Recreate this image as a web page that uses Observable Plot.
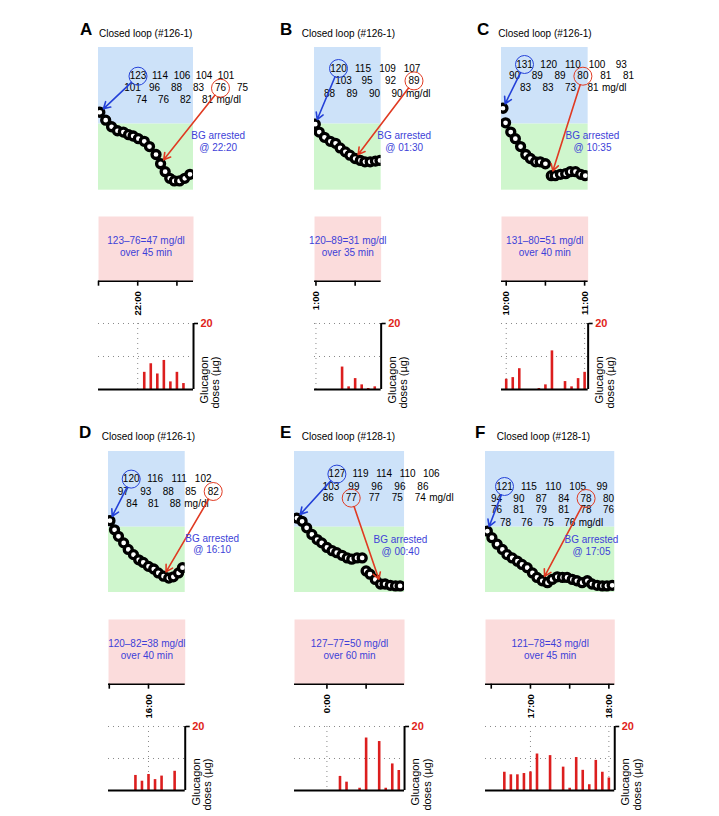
<!DOCTYPE html>
<html><head><meta charset="utf-8">
<script src="https://cdn.jsdelivr.net/npm/d3@7"></script>
<script src="https://cdn.jsdelivr.net/npm/@observablehq/plot@0.6"></script>
<style>
body{margin:0;background:#fff;font-family:"Liberation Sans",Arial,Helvetica,sans-serif;}
#fig{position:relative;width:719px;height:816px;overflow:hidden;background:#fff;}
#fig svg{position:absolute;}
.letter{position:absolute;font-weight:bold;font-size:17px;line-height:16px;white-space:nowrap;}
.ttl{position:absolute;font-size:10px;line-height:10px;white-space:nowrap;}
</style></head><body><div id="fig"></div>
<script>
// ---------------- DATA ----------------
const panelIds = ["A","B","C","D","E","F"];
const titles = ["Closed loop (#126-1)","Closed loop (#126-1)","Closed loop (#126-1)","Closed loop (#126-1)","Closed loop (#128-1)","Closed loop (#128-1)"];
// reference hour of each panel; all times below are minutes relative to it
const refHours = [22, 1, 10, 16, 0, 17];
const domains = [[-30, 42.7], [-1.1, 49.9], [-3.6, 62.7], [-30.6, 28.1], [-24.8, 59.4], [-34.4, 64.5]];
const axisTicks = [[-30,0,30],[0,30],[0,30,60],[-30,0],[0,30],[-30,0,30,60]];
const hourTicks = [[0],[0],[0,60],[0],[0],[0,60]];

// glucose trace (circles): minutes from reference hour, mg/dl
const timesA = [-29,-24.5,-20,-15.5,-11,-7,-3.5,0.5,5,9,14,17.5,21,24.5,28,32,36,40];
const glucoseA = [129,123,118,115,114,112,111,109,107,103,97,90,84,79,77,77,79,82];
const timesB = [-0.5,2.5,6.5,11,15,18.5,22.5,26,30,34,37.5,41.5,45.5,49];
const glucoseB = [120,114,110,107,105.5,102,99,96.5,94,92.5,91.5,91.5,92,92.5];
const timesC = [-2.5,-0.5,3.5,7,11,15,18.5,22.5,26,30,34.5,37.5,41.5,45.5,49,53,57,60.5];
const glucoseC = [132,121,114,109,103,97,94,91.5,91.5,90,81,81,82,82.5,84,84,82,81];
const timesD = [-29.5,-26,-23,-19,-15.5,-11.5,-7.5,-4,0,4,7.5,11.5,15.5,19,23,26];
const glucoseD = [125,118,113,108,103,99,95,93,90,88,85,82.5,81,82,85,89];
const timesE = [-23,-19,-15.5,-11.5,-7.5,-4,0,4,7.5,11.5,15.5,19,23,27,30,33,37,41,44.5,48.5,52.5,56];
const glucoseE = [127,124.5,119.5,114.5,110.5,108,104.5,102,100.5,98.5,96.5,95.5,96.5,96.5,86.5,84,80,76.5,76.5,75.5,75,75];
const timesF = [-33,-29.5,-25.5,-21.5,-18,-14,-10,-6.5,-2.5,1.5,5,9,13,16.5,20.5,24.5,28,32,35.5,39.5,43.5,47,51,55,58.5,62.5];
const glucoseF = [117,112,107,103,99,96.5,94,91.5,89,85,81.5,79,77.5,80,82,81.5,81.5,80,79,77.5,79,76.5,75.5,75,75,75.5];

// CGM value tables printed in the blue area
const tableA = [[123,114,106,104,101],[101,96,88,83,76,75],[74,76,82,81]];
const tableB = [[120,115,109,107],[103,95,92,89],[88,89,90,90]];
const tableC = [[131,120,110,100,93],[90,89,89,80,81,81],[83,83,73,81]];
const tableD = [[120,116,111,102],[97,93,88,85,82],[84,81,88]];
const tableE = [[127,119,114,110,106],[103,99,96,96,86],[86,77,77,75,74]];
const tableF = [[121,115,110,105,99],[94,90,87,84,78,80],[76,81,79,81,78,76],[78,76,75,76]];
const endCells = [[1,4],[1,3],[1,3],[1,4],[2,1],[1,4]];
const arrowTargets = [[0,11],[0,8],[0,10],[0,11],[0,17],[0,11]];
const arrestTimes = ["22:20","01:30","10:35","16:10","00:40","17:05"];
const durations = [45,35,40,40,60,45];

// glucagon doses (µg): minutes from reference hour
const doseTimesA = [5,10,15,20,25,30,35];
const dosesA = [5.2,7.8,4.7,8.8,2.3,5.2,1.8];
const doseTimesB = [20,25,30,35,40,45];
const dosesB = [6.8,0.8,3.3,1.4,0.3,0.8];
const doseTimesC = [0,5,10,25,30,35,45,50,55,60];
const dosesC = [3.1,3.6,6.3,0.3,1.4,11.7,2.4,0.8,3.3,5.2];
const doseTimesD = [-10,-5,0,5,10,20];
const dosesD = [4.7,2.9,5.0,3.4,4.5,6.0];
const doseTimesE = [10,15,25,30,40,45,50,55];
const dosesE = [4.4,2.6,0.7,16.4,15.3,0.7,8.3,6.25];
const doseTimesF = [-20,-15,-10,-5,0,5,15,25,30,35,40,45,50,55,60];
const dosesF = [5.7,4.9,4.9,5.3,5.8,11.4,10.9,7.3,0.7,10.3,6.3,1.8,9.4,5.7,3.9];

const targetRange = [70, 120];
const glucoseDomain = [70, 178];
const doseDomain = [0, 20];
const doseGrid = [10, 20];

// ---------------- LAYOUT / STYLE ----------------
const FONT = '"Liberation Sans", Arial, Helvetica, sans-serif';
const K = 1.307; // px per minute
const C = {blueBg:"#cde2f9", greenBg:"#cff6cd", pink:"#fbdcdc", txtBlue:"#3d3fd8", arrowBlue:"#2340d8", arrowRed:"#e03a22", bar:"#dc1e1e", red20:"#e0241a"};
const rows = [
  {topY:47.3, topH:142.7, pinkY:216, pinkH:64.7, barY:323.3, barH:66, titleBase:37.2, letterBase:35.7},
  {topY:450.7, topH:141, pinkY:619, pinkH:64.7, barY:726, barH:64, titleBase:440.3, letterBase:439.3}
];
const layout = {
  A:{L:98.3, row:0, rowY:[28.7,40.7,52.7], rowX:[39.5,34,43], pitch:[22,22,22], bg:[119.7,87.7], titleX:99, letterX:80},
  B:{L:314.3, row:0, rowY:[21,33.4,46], rowX:[24,29,15], pitch:[24.5,23.5,22.5], bg:[89.7,87.7], titleX:301.7, letterX:280},
  C:{L:501, row:0, rowY:[17,28.7,40.4], rowX:[23,13,24], pitch:[24.2,22.8,22.5], bg:[91,87.7], titleX:498.3, letterX:477},
  D:{L:108.3, row:1, rowY:[27.6,40,52], rowX:[22.7,14.7,23.4], pitch:[24,22.5,21.7], bg:[103.7,86.5], titleX:101.7, letterX:79},
  E:{L:294.3, row:1, rowY:[22.6,35,46.6], rowX:[42.4,36.4,33.7], pitch:[23.6,23,23], bg:[106,87.6], titleX:301.7, letterX:280},
  F:{L:485, row:1, rowY:[35,47,58.6,71], rowX:[19,11,11,20], pitch:[24.4,22.4,22.4,21.4], bg:[106,87.6], titleX:496.7, letterX:475}
};
const readings = [[timesA,glucoseA],[timesB,glucoseB],[timesC,glucoseC],[timesD,glucoseD],[timesE,glucoseE],[timesF,glucoseF]];
const tables = [tableA,tableB,tableC,tableD,tableE,tableF];
const doses = [[doseTimesA,dosesA],[doseTimesB,dosesB],[doseTimesC,dosesC],[doseTimesD,dosesD],[doseTimesE,dosesE],[doseTimesF,dosesF]];

const fig = document.getElementById("fig");
function place(svg, left, top){ svg.style.left = left+"px"; svg.style.top = top+"px"; fig.appendChild(svg); }
function clock(ref, m){ const t = ((ref*60+m)%1440+1440)%1440; return Math.floor(t/60)+":"+String(Math.round(t%60)).padStart(2,"0"); }
const ST = {background:"transparent", overflow:"visible", maxWidth:"none", fontFamily:FONT, fontSize:"10px", color:"black"};

panelIds.forEach((id, i) => {
  const P = layout[id], R = rows[P.row];
  const [t0, t1] = domains[i];
  const W = (t1 - t0) * K;
  const mL = 25, mR = 70;
  const fx = px => t0 + px / K;
  const fy = py => glucoseDomain[1] - py / R.topH * (glucoseDomain[1] - glucoseDomain[0]);
  const [ts, vs] = readings[i];
  const sg = ts.map((t, j) => ({t, v: vs[j]}));
  const tab = tables[i];
  const labels = [];
  tab.forEach((row, r) => row.forEach((v, c) => labels.push({x: fx(P.rowX[r] + c*P.pitch[r]), y: fy(P.rowY[r]), text: String(v), r, c})));
  const lr = tab.length - 1, lc = tab[lr].length - 1;
  const unit = [{x: fx(P.rowX[lr] + lc*P.pitch[lr] + 9), y: fy(P.rowY[lr]), text: "mg/dl"}];
  const sLab = labels.find(d => d.r === 0 && d.c === 0);
  const eLab = labels.find(d => d.r === endCells[i][0] && d.c === endCells[i][1]);
  const bTo = sg[arrowTargets[i][0]], rTo = sg[arrowTargets[i][1]];

  // letter + title
  const lt = document.createElement("div"); lt.className = "letter"; lt.textContent = id;
  lt.style.left = P.letterX + "px"; lt.style.top = (R.letterBase - 14) + "px"; fig.appendChild(lt);
  const tt = document.createElement("div"); tt.className = "ttl"; tt.textContent = titles[i];
  tt.style.left = P.titleX + "px"; tt.style.top = (R.titleBase - 8.5) + "px"; fig.appendChild(tt);

  // glucose panel
  const top = Plot.plot({
    width: mL + W + mR, height: R.topH, marginLeft: mL, marginRight: mR, marginTop: 0, marginBottom: 0,
    x: {domain: [t0, t1], axis: null}, y: {domain: glucoseDomain, axis: null},
    style: ST,
    marks: [
      Plot.rect([[targetRange[1], glucoseDomain[1]]], {y1: d => d[0], y2: d => d[1], fill: C.blueBg}),
      Plot.rect([targetRange], {y1: d => d[0], y2: d => d[1], fill: C.greenBg}),
      Plot.dot(sg, {x: "t", y: "v", r: 4, stroke: "black", strokeWidth: 3.3, fill: "white", clip: true}),
      Plot.text(labels, {x: "x", y: "y", text: "text", fill: "black", fontSize: 10}),
      Plot.text(unit, {x: "x", y: "y", text: "text", fill: "black", fontSize: 10, textAnchor: "start"}),
      Plot.dot([sLab], {x: "x", y: "y", r: 9, stroke: C.arrowBlue, strokeWidth: 1, fill: "none"}),
      Plot.dot([eLab], {x: "x", y: "y", r: 9, stroke: C.arrowRed, strokeWidth: 1, fill: "none"}),
      Plot.arrow([{a: sLab, b: bTo}], {x1: d => d.a.x, y1: d => d.a.y, x2: d => d.b.t, y2: d => d.b.v, stroke: C.arrowBlue, strokeWidth: 1.6, headLength: 7, insetStart: 9, insetEnd: 5}),
      Plot.arrow([{a: eLab, b: rTo}], {x1: d => d.a.x, y1: d => d.a.y, x2: d => d.b.t, y2: d => d.b.v, stroke: C.arrowRed, strokeWidth: 1.6, headLength: 7, insetStart: 9, insetEnd: 5}),
      Plot.text([`BG arrested\n@ ${arrestTimes[i]}`], {x: () => fx(P.bg[0]), y: () => fy(P.bg[1] + 5.85), fill: C.txtBlue, fontSize: 10, lineHeight: 1.17})
    ]
  });
  place(top, P.L - mL, R.topY);

  // pink summary box with time axis
  const s = tab[0][0], e = tab[endCells[i][0]][endCells[i][1]];
  const pink = Plot.plot({
    width: mL + W + mR, height: R.pinkH + 42, marginLeft: mL, marginRight: mR, marginTop: 0, marginBottom: 42,
    x: {domain: [t0, t1]}, y: {domain: [0, 1], axis: null},
    style: ST,
    marks: [
      Plot.frame({fill: C.pink, stroke: "none"}),
      Plot.text([`${s}–${e}=${s-e} mg/dl\nover ${durations[i]} min`], {frameAnchor: "middle", dy: -2.5, fill: C.txtBlue, fontSize: 10, lineHeight: 1.17}),
      Plot.ruleY([0], {stroke: "black", strokeWidth: 1.6}),
      Plot.axisX({ticks: axisTicks[i], tickSize: 5, tickPadding: 5, tickRotate: -90, strokeWidth: 1.6,
        tickFormat: d => hourTicks[i].includes(d) ? clock(refHours[i], d) : "", fontWeight: "bold", fontSize: 9.5, label: null})
    ]
  });
  place(pink, P.L - mL, R.pinkY);

  // glucagon bars
  const [dt, dv] = doses[i];
  const bars = dt.map((t, j) => ({t, v: dv[j]}));
  const mT = 8, mB = 2;
  const bar = Plot.plot({
    width: mL + W + mR, height: R.barH + mT + mB, marginLeft: mL, marginRight: mR, marginTop: mT, marginBottom: mB,
    x: {domain: [t0, t1], axis: null}, y: {domain: doseDomain},
    style: ST,
    marks: [
      Plot.ruleY(doseGrid, {stroke: "#888", strokeDasharray: "1,4", strokeWidth: 1}),
      Plot.ruleX(hourTicks[i], {stroke: "#888", strokeDasharray: "1,4", strokeWidth: 1}),
      Plot.ruleX(bars, {x: "t", y1: 0, y2: "v", stroke: C.bar, strokeWidth: 2.6}),
      Plot.ruleY([doseDomain[0]], {stroke: "black", strokeWidth: 2}),
      Plot.ruleX([t1], {y1: doseDomain[0], y2: doseDomain[1], stroke: "black", strokeWidth: 2}),
      Plot.axisY({anchor: "right", ticks: [20], tickSize: 4, tickPadding: 3, strokeWidth: 1.6, fill: C.red20, fontWeight: "bold", fontSize: 11, label: null}),
      Plot.text(["Glucagon\ndoses (µg)"], {frameAnchor: "right", rotate: -90, dx: 16.5, fontSize: 11, lineHeight: 1.05, fill: "black"})
    ]
  });
  place(bar, P.L - mL, R.barY - mT);
});
</script></body></html>
